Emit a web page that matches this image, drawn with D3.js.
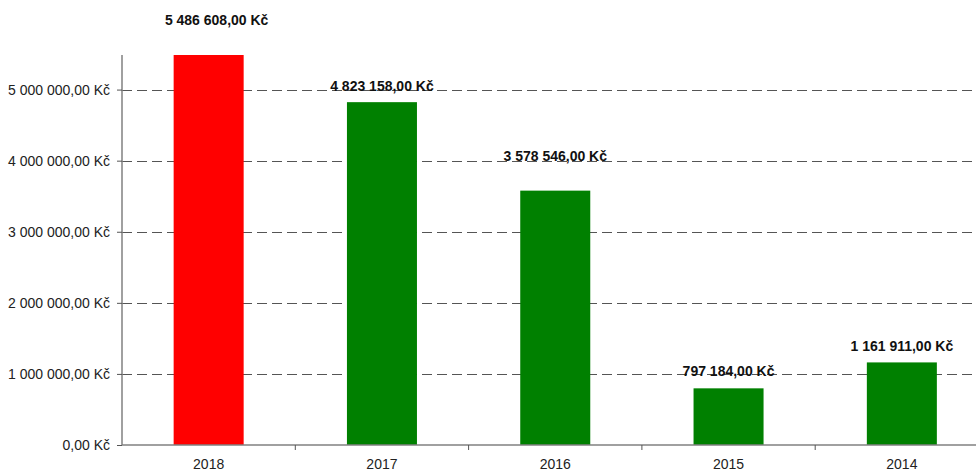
<!DOCTYPE html>
<html>
<head>
<meta charset="utf-8">
<script src="https://cdn.jsdelivr.net/npm/d3@7"></script>
<style>
  body { margin: 0; background: #fff; }
  svg { display: block; font-family: "Liberation Sans", Arial, sans-serif; }
</style>
</head>
<body>
<svg></svg>
<script>
let years = ['2018', '2017', '2016', '2015', '2014']
let amounts = [5486608, 4823158, 3578546, 797184, 1161911]
let barColors = ['#ff0000', '#008000', '#008000', '#008000', '#008000']
let yTicks = [0, 1000000, 2000000, 3000000, 4000000, 5000000]

// how far each value label sits above its bar
let labelLift = [30, 11, 30, 12, 11]

let width = 976
let height = 471
let plotLeft = 122
let plotBottom = 445
let plotTop = 55

let cz = d3.formatLocale({
  decimal: ',',
  thousands: ' ',
  grouping: [3],
  currency: ['', ' Kč']
})
let money = cz.format('$,.2f')

let svg = d3.select('svg')
    .attr('width', width)
    .attr('height', height)

let x = d3.scaleBand()
    .domain(years)
    .range([plotLeft, plotLeft + 5 * 173.3])
    .paddingInner(0.596)
    .paddingOuter(0.298)

let y = d3.scaleLinear()
    .domain([0, d3.max(amounts)])
    .range([plotBottom, plotTop])

// dashed grid
svg.append('g')
    .selectAll('line')
    .data(yTicks.filter(d => d > 0))
    .enter()
    .append('line')
      .attr('x1', plotLeft)
      .attr('x2', width)
      .attr('y1', d => Math.round(y(d)) + 0.5)
      .attr('y2', d => Math.round(y(d)) + 0.5)
      .attr('stroke', '#555')
      .attr('stroke-dasharray', '10,5')

// bars
svg.append('g')
    .selectAll('rect')
    .data(amounts)
    .enter()
    .append('rect')
      .attr('x', (d, i) => x(years[i]))
      .attr('width', x.bandwidth())
      .attr('y', d => y(d))
      .attr('height', d => plotBottom - y(d))
      .attr('fill', (d, i) => barColors[i])

// y axis
let yAxis = svg.append('g')
    .attr('transform', `translate(${plotLeft},0)`)
    .call(d3.axisLeft(y).tickValues(yTicks).tickSize(5).tickPadding(7).tickFormat(money))

yAxis.select('.domain').attr('stroke', '#808080').attr('stroke-width', 1.5).attr('d', `M0,${plotTop}V${plotBottom}`)
yAxis.selectAll('.tick line').attr('stroke', '#555')
yAxis.selectAll('.tick text')
    .attr('fill', '#222')
    .style('font-size', '14px')
    .style('font-family', '"Liberation Sans", Arial, sans-serif')

// x axis with ticks on band edges
let xAxis = svg.append('g')
    .attr('transform', `translate(0,${plotBottom})`)
    .call(d3.axisBottom(x).tickSize(0).tickPadding(14))

xAxis.select('.domain').attr('stroke', '#808080').attr('stroke-width', 1.5).attr('d', `M${plotLeft},0H${width}`)
xAxis.selectAll('.tick text')
    .attr('fill', '#222')
    .style('font-size', '14px')
    .style('font-family', '"Liberation Sans", Arial, sans-serif')

xAxis.selectAll('.edge')
    .data(years.map(d => x(d) - x.step() * x.paddingOuter() + x.step()))
    .enter()
    .append('line')
      .classed('edge', true)
      .attr('x1', d => d)
      .attr('x2', d => d)
      .attr('y1', 0)
      .attr('y2', 5)
      .attr('stroke', '#555')

// value labels
svg.append('g')
    .selectAll('text')
    .data(amounts)
    .enter()
    .append('text')
      .attr('x', (d, i) => x(years[i]) + x.bandwidth() / 2 + (i === 0 ? 8 : 0))
      .attr('y', (d, i) => y(d) - labelLift[i])
      .attr('text-anchor', 'middle')
      .style('font-size', '14px')
      .style('font-weight', 'bold')
      .attr('fill', '#111')
      .text(d => money(d))
</script>
</body>
</html>
